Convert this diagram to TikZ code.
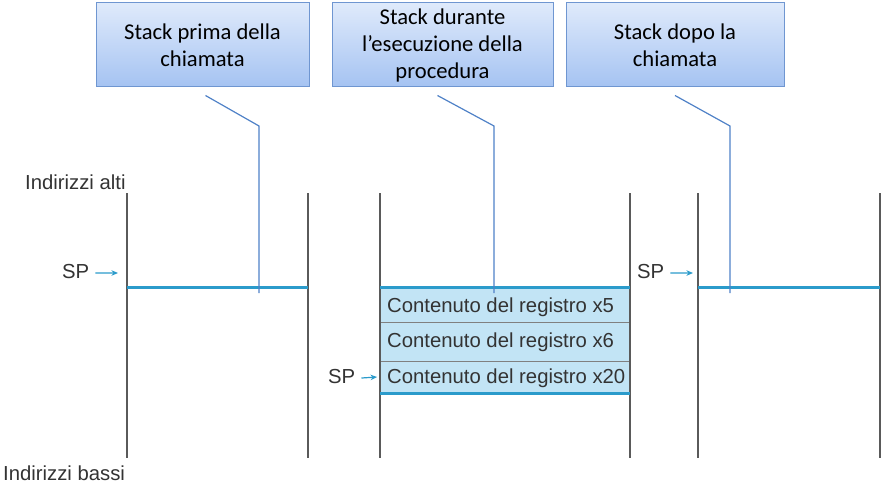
\documentclass[tikz,border=0pt]{standalone}
\usepackage{fontspec}
\setmainfont{Liberation Sans}
\newfontfamily\calloutfont{Carlito}
\usetikzlibrary{arrows.meta, calc, positioning}

\definecolor{spblue}{HTML}{2B9BCB}
\definecolor{cellblue}{HTML}{C2E4F5}
\definecolor{leaderblue}{HTML}{4F81C7}
\definecolor{boxtop}{HTML}{DFEAFB}
\definecolor{boxbottom}{HTML}{A5C3F2}
\definecolor{boxborder}{HTML}{6F96D1}
\definecolor{wallgray}{HTML}{5A5A5A}
\definecolor{textgray}{HTML}{333333}

\tikzset{
	callout/.style={draw=boxborder, line width=1pt, top color=boxtop, bottom color=boxbottom,
		minimum height=84pt, inner sep=0pt, align=center,
		font=\calloutfont\fontsize{22.6}{27}\selectfont},
	leader/.style={draw=leaderblue, line width=1.2pt},
	wall/.style={draw=wallgray, line width=1.1pt},
	spline/.style={draw=spblue, line width=3pt},
	cellsep/.style={draw=gray, line width=1pt},
	sparrow/.style={draw=spblue, line width=1.2pt, -{Stealth[length=6.5pt,width=5.5pt]}},
	labeltext/.style={anchor=base west, inner sep=0pt, text=textgray,
		font=\fontsize{20.3}{23}\selectfont}
}

\begin{document}
\begin{tikzpicture}[x=1pt, y=-1pt]
	\useasboundingbox (0,0) rectangle (886,484);

	% callout boxes
	\node[callout, minimum width=213pt] (prima) at (202.5,45) {Stack prima della\\chiamata};
	\node[callout, minimum width=221pt] (durante) at (442.5,45) {Stack durante\\l’esecuzione della\\procedura};
	\node[callout, minimum width=218pt] (dopo) at (675,45) {Stack dopo la\\chiamata};

	% stack during the call: saved registers
	\fill[cellblue] (380,287) rectangle (630,393);
	\draw[cellsep] (380,322) -- (630,322);
	\draw[cellsep] (380,361) -- (630,361);
	\node[labeltext] (regA) at (387,312) {Contenuto del registro x5};
	\node[labeltext] (regB) at (387,347) {Contenuto del registro x6};
	\node[labeltext] (regC) at (387,383) {Contenuto del registro x20};

	% walls of the three stacks
	\foreach \x in {127,308,380,630,698,880}
		\draw[wall] (\x,193) -- (\x,458);

	% stack pointer lines
	\draw[spline] (127,287) -- (308,287);
	\draw[spline] (380,287) -- (630,287);
	\draw[spline] (380,393) -- (630,393);
	\draw[spline] (698,287) -- (880,287);

	% leaders from the callouts
	\coordinate (kneeA) at (259,126);
	\coordinate (tipA) at (259,293);
	\coordinate (kneeB) at (494,126);
	\coordinate (tipB) at (494,293);
	\coordinate (kneeC) at (730,126);
	\coordinate (tipC) at (730,293);
	\draw[leader] ($(prima.south)+(3,8)$) -- (kneeA) -- (tipA);
	\draw[leader] ($(durante.south)+(-5,8)$) -- (kneeB) -- (tipB);
	\draw[leader] ($(dopo.south)+(0,8)$) -- (kneeC) -- (tipC);

	% SP labels
	\node[labeltext] (spA) at (62,278) {SP};
	\node[labeltext] (spB) at (328,383) {SP};
	\node[labeltext] (spC) at (637,278) {SP};
	\coordinate (spAend) at (118,273);
	\coordinate (spBend) at (377,377);
	\coordinate (spCend) at (693,273);
	\draw[sparrow] ($(spA.east)+(6,2)$) -- (spAend);
	\draw[sparrow] ($(spB.east)+(6,2)$) -- (spBend);
	\draw[sparrow] ($(spC.east)+(6,2)$) -- (spCend);

	% address labels
	\node[labeltext] (alti) at (25,189) {Indirizzi alti};
	\node[labeltext] (bassi) at (3,480) {Indirizzi bassi};
\end{tikzpicture}
\end{document}
